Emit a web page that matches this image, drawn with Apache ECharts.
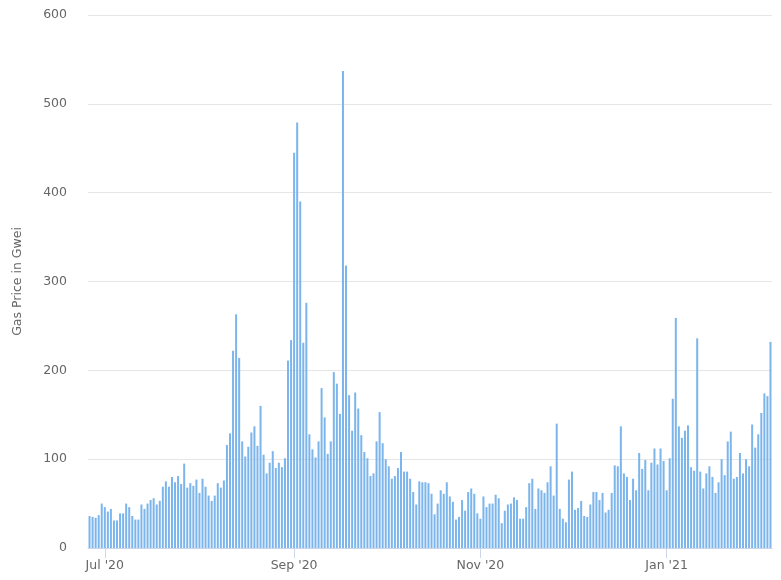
<!DOCTYPE html>
<html>
<head>
<meta charset="utf-8">
<script src="https://cdn.jsdelivr.net/npm/echarts@6/dist/echarts.min.js"></script>
<style>
html,body{margin:0;padding:0;background:#fff;}
#chart{width:781px;height:580px;}
</style>
</head>
<body>
<div id="chart"></div>
<script>
// Daily gas price (Gwei), starting 2020-06-26
var startDate = '2020-06-26';
var gasPrice = [
  36, 35, 34, 37, 50, 46, 41, 44, 31, 31, 39, 39, 50, 46, 36, 32, 32, 49,
  44, 50, 54, 56, 49, 53, 69, 75, 69, 80, 74, 81, 72, 95, 68, 73, 70, 77, 62,
  78, 69, 59, 53, 59, 73, 68, 76, 116, 129, 222, 263, 214, 120, 103, 114, 130, 137, 115,
  160, 105, 84, 96, 109, 90, 96, 91, 101, 211, 234, 445, 479, 390, 231, 276, 128, 111, 102,
  120, 180, 147, 106, 120, 198, 185, 151, 537, 318, 172, 132, 175, 157, 127, 108, 101, 81, 84,
  120, 153, 118, 100, 92, 78, 81, 90, 108, 86, 86, 78, 63, 49, 75, 74, 74, 73, 61,
  38, 50, 65, 61, 74, 58, 52, 32, 35, 54, 42, 63, 67, 61, 39, 33, 58, 46, 50,
  50, 60, 56, 28, 42, 49, 50, 57, 54, 33, 33, 46, 73, 78, 44, 67, 65, 62, 74,
  92, 59, 140, 44, 33, 29, 77, 86, 43, 45, 53, 36, 35, 49, 63, 63, 54, 62, 40,
  43, 62, 93, 92, 137, 84, 80, 54, 78, 65, 107, 89, 99, 65, 96, 112, 94, 112, 98,
  65, 101, 168, 259, 137, 124, 132, 138, 91, 87, 236, 86, 67, 84, 92, 80, 62, 74, 100,
  82, 120, 131, 78, 80, 107, 84, 100, 92, 139, 113, 128, 152, 174, 171, 232
];
var tickDates = ['2020-07-01', '2020-09-01', '2020-11-01', '2021-01-01'];
var tickLabels = ["Jul '20", "Sep '20", "Nov '20", "Jan '21"];
var yTicks = [0, 100, 200, 300, 400, 500, 600];

function fmt(d) {
  var m = d.getUTCMonth() + 1, day = d.getUTCDate();
  return d.getUTCFullYear() + '-' + (m < 10 ? '0' : '') + m + '-' + (day < 10 ? '0' : '') + day;
}
var dates = [];
var t0 = Date.parse(startDate + 'T00:00:00Z');
for (var i = 0; i < gasPrice.length; i++) {
  dates.push(fmt(new Date(t0 + i * 86400000)));
}
function isTick(idx, val) { return tickDates.indexOf(val) >= 0; }
var FONT = 'DejaVu Sans, Liberation Sans, Arial, sans-serif';

var chart = echarts.init(document.getElementById('chart'), null, {renderer: 'canvas'});
chart.setOption({
  animation: false,
  backgroundColor: '#ffffff',
  grid: {left: 88, right: 9, top: 15, bottom: 32, containLabel: false},
  xAxis: {
    type: 'category',
    data: dates,
    boundaryGap: true,
    axisLine: {show: true, lineStyle: {color: '#ccd6eb', width: 1}},
    axisTick: {show: true, alignWithLabel: true, interval: isTick, length: 10, lineStyle: {color: '#ccd6eb'}},
    axisLabel: {
      interval: isTick,
      margin: 11,
      color: '#666666',
      fontSize: 12.5,
      fontFamily: FONT,
      formatter: function (v) { var k = tickDates.indexOf(v); return k >= 0 ? tickLabels[k] : ''; }
    },
    splitLine: {show: false}
  },
  yAxis: {
    type: 'value',
    min: yTicks[0],
    max: yTicks[yTicks.length - 1],
    interval: 100,
    name: 'Gas Price in Gwei',
    nameLocation: 'middle',
    nameGap: 64,
    nameRotate: 90,
    nameTextStyle: {color: '#666666', fontSize: 12.5, fontFamily: FONT},
    axisLine: {show: false},
    axisTick: {show: false},
    axisLabel: {color: '#666666', fontSize: 12.5, margin: 21, fontFamily: FONT},
    splitLine: {lineStyle: {color: '#e6e6e6', width: 1}}
  },
  series: [{
    type: 'bar',
    data: gasPrice,
    barWidth: '66%',
    itemStyle: {color: '#7cb5ec'}
  }]
});
</script>
</body>
</html>
